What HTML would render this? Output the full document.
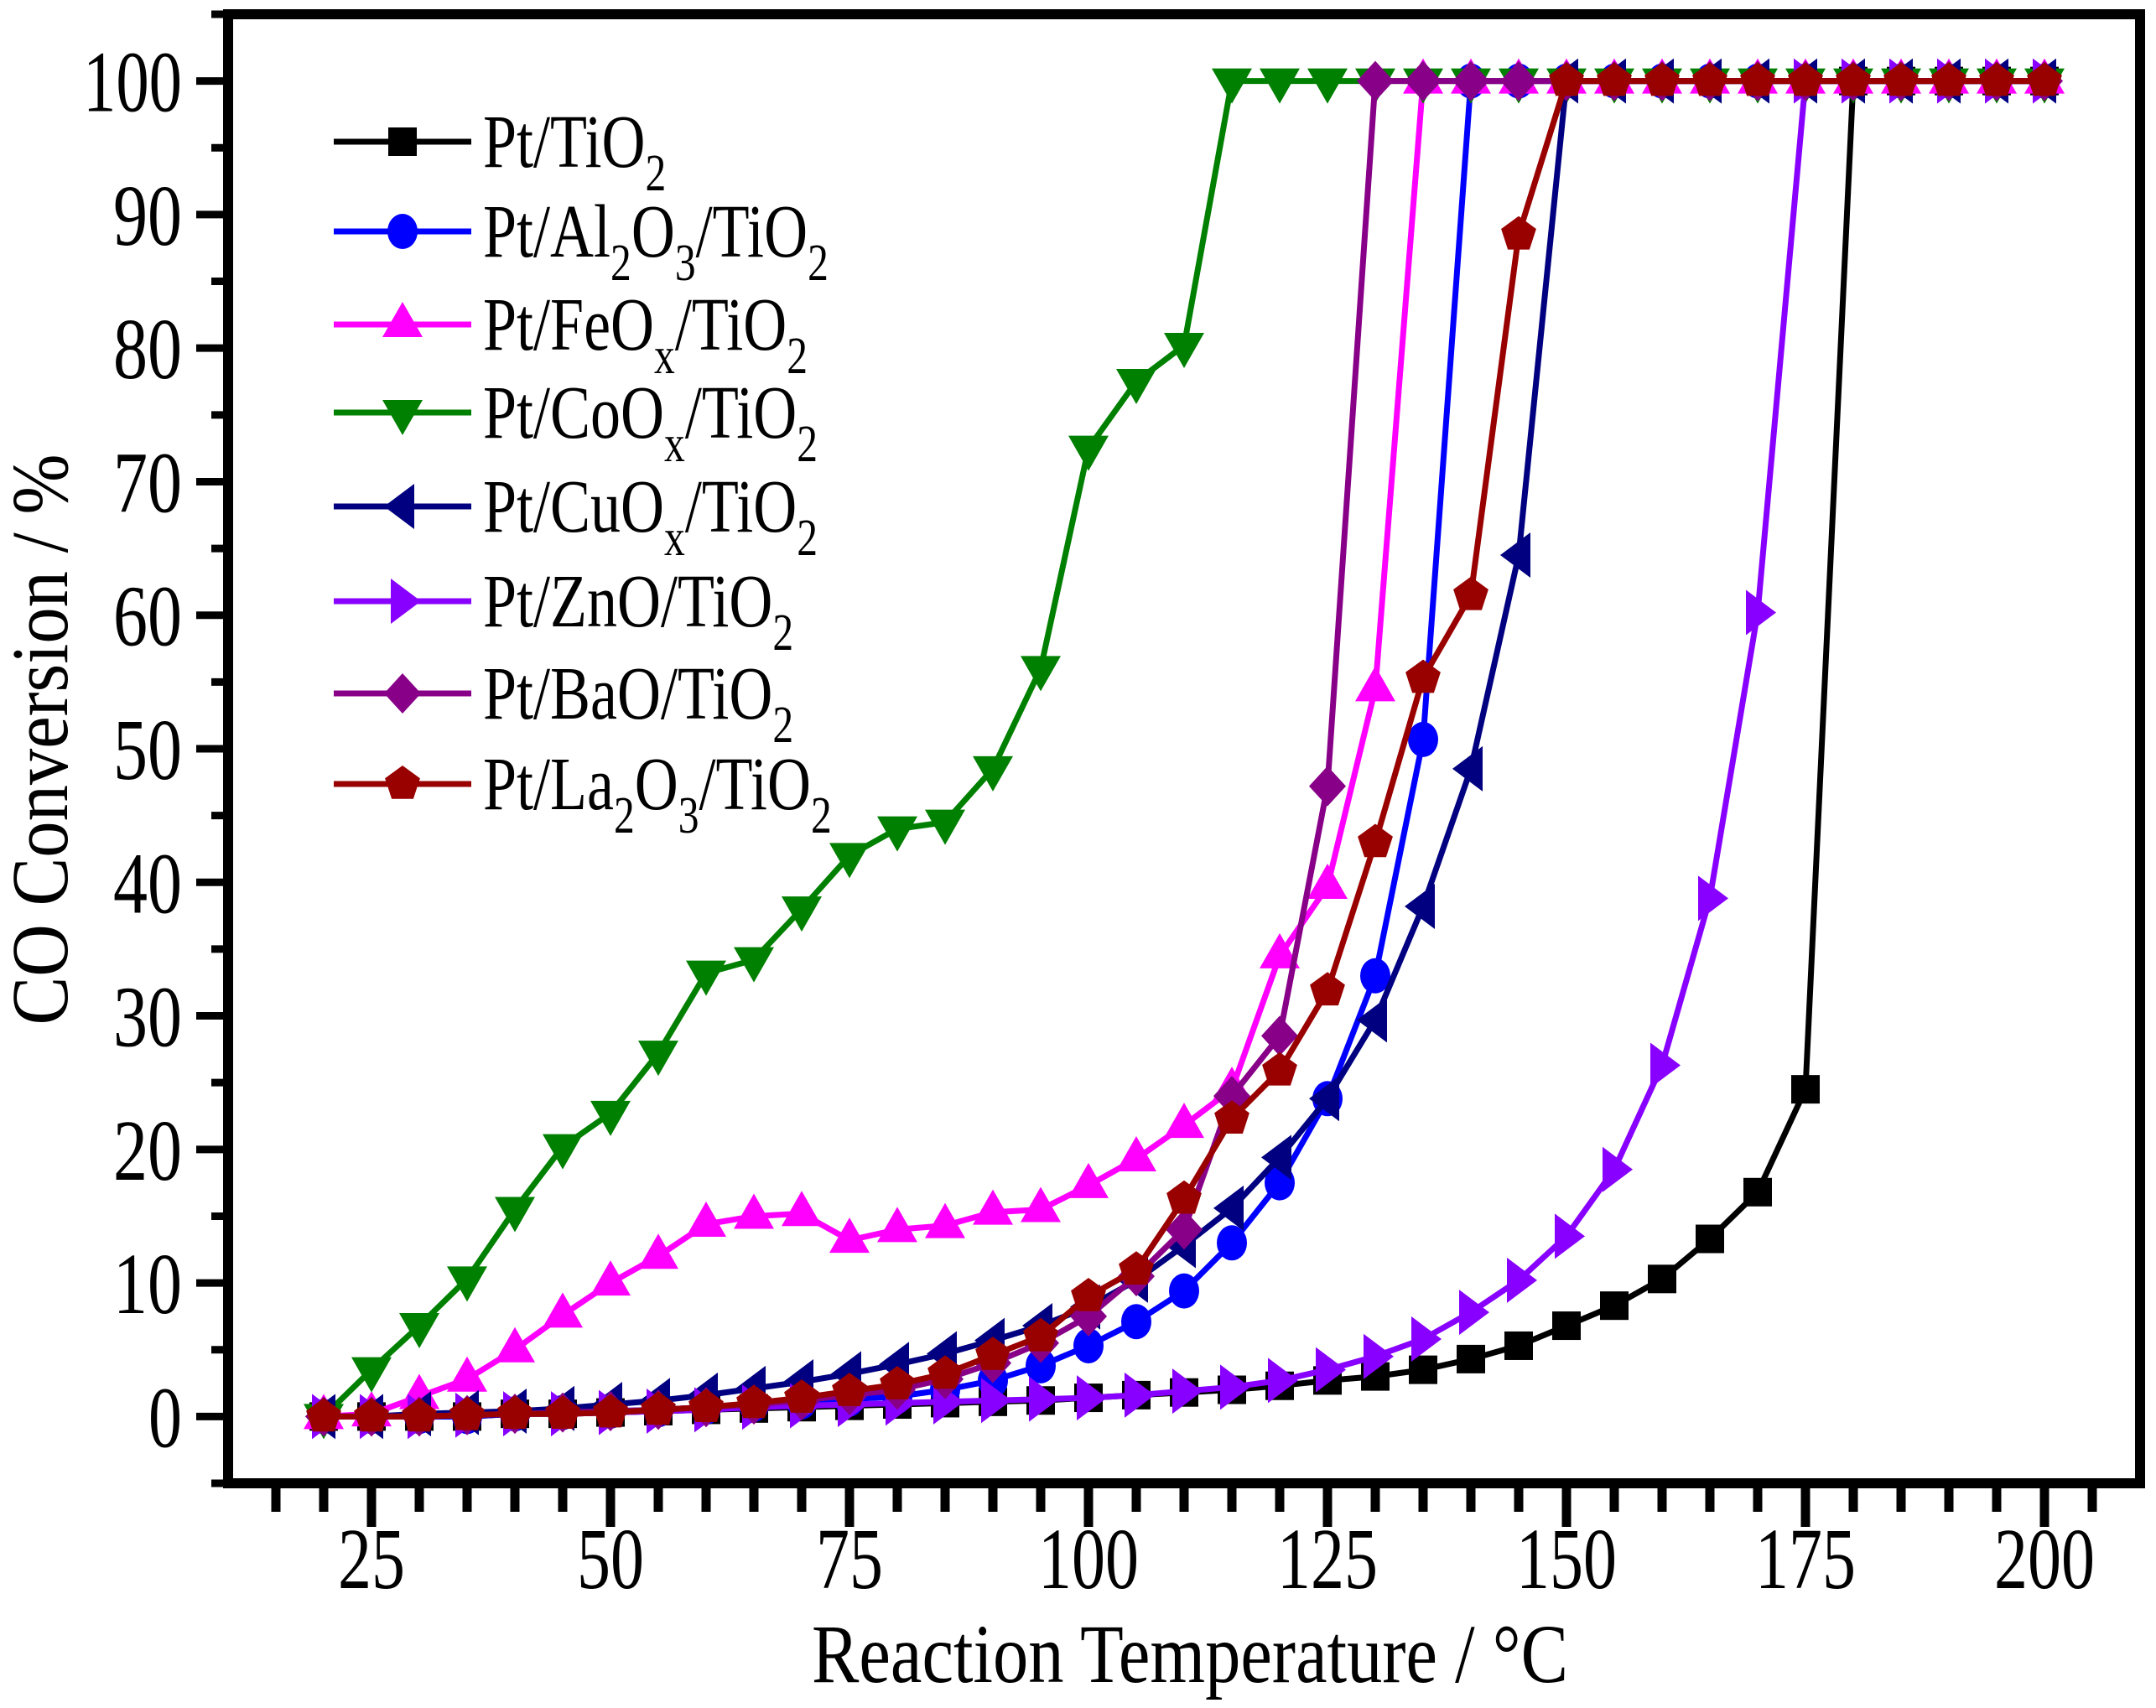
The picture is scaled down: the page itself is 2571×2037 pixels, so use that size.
<!DOCTYPE html>
<html><head><meta charset="utf-8"><style>
html,body{margin:0;padding:0;background:#fff;}
svg{display:block;font-family:"Liberation Serif","DejaVu Serif",serif;}
</style></head>
<body>
<svg id="chart" width="2571" height="2037" viewBox="0 0 2571 2037" xmlns="http://www.w3.org/2000/svg">
<rect x="0" y="0" width="2571" height="2037" fill="#fff"/>
<g id="series"></g>
<g id="axes"></g>
<g id="legend"></g>
</svg>
<script>
const temps = [20,25,30,35,40,45,50,55,60,65,70,75,80,85,90,95,100,105,110,115,120,125,130,135,140,145,150,155,160,165,170,175,180,185,190,195,200];
const ptTiO2 = [0,0,0,0,0.2,0.2,0.3,0.4,0.5,0.6,0.7,0.8,0.9,1.0,1.1,1.2,1.4,1.6,1.8,2.0,2.3,2.7,3.0,3.5,4.3,5.3,6.8,8.3,10.3,13.3,16.8,24.5,100,100,100,100,100];
const ptAl = [0,0,0,0,0.2,0.3,0.4,0.5,0.7,0.9,1.1,1.3,1.5,2.0,2.7,3.8,5.3,7.1,9.4,13,17.5,23.8,33,50.7,100,100,100,100,100,100,100,100,100,100,100,100,100];
const ptFe = [0,0.2,1.5,2.8,5,7.6,10,12,14.4,15,15.2,13.2,14,14.3,15.3,15.5,17.3,19.3,21.8,24.5,34.5,39.7,54.5,100,100,100,100,100,100,100,100,100,100,100,100,100,100];
const ptCo = [0,3.5,6.8,10.3,15.5,20.2,22.7,27.2,33.2,34.2,38,42,44,44.5,48.5,56,72.5,77.5,80.2,100,100,100,100,100,100,100,100,100,100,100,100,100,100,100,100,100,100];
const ptCu = [0,0,0.2,0.3,0.4,0.6,0.9,1.2,1.6,2.1,2.6,3.2,3.9,4.7,5.7,6.8,8.2,10.2,12.8,15.6,19.4,23.8,29.7,38.2,48.5,64.5,100,100,100,100,100,100,100,100,100,100,100];
const ptZn = [0,0,0,0.1,0.2,0.2,0.3,0.4,0.5,0.7,0.8,0.9,1.0,1.1,1.2,1.3,1.4,1.6,1.9,2.2,2.7,3.5,4.5,5.8,7.8,10.2,13.5,18.5,26.3,38.8,60.2,100,100,100,100,100,100];
const ptBa = [0,0,0,0.1,0.2,0.3,0.4,0.5,0.7,0.9,1.2,1.6,2.0,2.8,4.0,5.5,7.5,10.5,14,24,28.5,47.2,100,100,100,100,100,100,100,100,100,100,100,100,100,100,100];
const ptLa = [0,0,0,0.1,0.2,0.2,0.3,0.5,0.7,1.0,1.4,1.9,2.4,3.2,4.6,6.0,9.0,11,16.3,22.3,25.9,31.9,43,55.3,61.5,88.5,100,100,100,100,100,100,100,100,100,100,100];
const xTicks = [25,50,75,100,125,150,175,200];
const yTicks = [0,10,20,30,40,50,60,70,80,90,100];

const NS='http://www.w3.org/2000/svg';
const L=272,R=2552,T=17,B=1769;
const xmin=10,xmax=210,ymin=-5,ymax=105;
const sx=v=>L+(v-xmin)/(xmax-xmin)*(R-L);
const sy=v=>B-(v-ymin)/(ymax-ymin)*(B-T);
function mk(tag,attrs,parent){const e=document.createElementNS(NS,tag);for(const k in attrs)e.setAttribute(k,attrs[k]);parent.appendChild(e);return e;}

function marker(shape,cx,cy,color,parent){
  let e;
  if(shape==='square'){e=mk('rect',{x:cx-17,y:cy-17,width:34,height:34,fill:color},parent);}
  else if(shape==='circle'){e=mk('ellipse',{cx:cx,cy:cy,rx:18,ry:21,fill:color},parent);}
  else if(shape==='up'){e=mk('polygon',{points:`${cx},${cy-27} ${cx+24},${cy+15} ${cx-24},${cy+15}`,fill:color},parent);}
  else if(shape==='down'){e=mk('polygon',{points:`${cx},${cy+27} ${cx+24},${cy-15} ${cx-24},${cy-15}`,fill:color},parent);}
  else if(shape==='left'){e=mk('polygon',{points:`${cx-22},${cy} ${cx+14},${cy-27} ${cx+14},${cy+27}`,fill:color},parent);}
  else if(shape==='right'){e=mk('polygon',{points:`${cx+22},${cy} ${cx-14},${cy-27} ${cx-14},${cy+27}`,fill:color},parent);}
  else if(shape==='diamond'){e=mk('polygon',{points:`${cx},${cy-24} ${cx+22},${cy} ${cx},${cy+24} ${cx-22},${cy}`,fill:color},parent);}
  else if(shape==='pentagon'){let p=[];for(let i=0;i<5;i++){const a=-Math.PI/2+i*2*Math.PI/5;p.push((cx+22*Math.cos(a)).toFixed(1)+','+(cy+22*Math.sin(a)).toFixed(1));}e=mk('polygon',{points:p.join(' '),fill:color},parent);}
  return e;
}

const seriesList=[
 {name:'pt-tio2',vals:ptTiO2,color:'#000000',shape:'square',label:[['Pt/TiO',0],['2',1]]},
 {name:'pt-al2o3-tio2',vals:ptAl,color:'#0000ff',shape:'circle',label:[['Pt/Al',0],['2',1],['O',0],['3',1],['/TiO',0],['2',1]]},
 {name:'pt-feox-tio2',vals:ptFe,color:'#ff00ff',shape:'up',label:[['Pt/FeO',0],['x',1],['/TiO',0],['2',1]]},
 {name:'pt-coox-tio2',vals:ptCo,color:'#008000',shape:'down',label:[['Pt/CoO',0],['x',1],['/TiO',0],['2',1]]},
 {name:'pt-cuox-tio2',vals:ptCu,color:'#000080',shape:'left',label:[['Pt/CuO',0],['x',1],['/TiO',0],['2',1]]},
 {name:'pt-zno-tio2',vals:ptZn,color:'#8800ff',shape:'right',label:[['Pt/ZnO/TiO',0],['2',1]]},
 {name:'pt-bao-tio2',vals:ptBa,color:'#880088',shape:'diamond',label:[['Pt/BaO/TiO',0],['2',1]]},
 {name:'pt-la2o3-tio2',vals:ptLa,color:'#990000',shape:'pentagon',label:[['Pt/La',0],['2',1],['O',0],['3',1],['/TiO',0],['2',1]]}
];

const sg=document.getElementById('series');
seriesList.forEach(s=>{
  const g=mk('g',{},sg);
  
  
  const pts=temps.map((t,i)=>sx(t).toFixed(1)+','+sy(s.vals[i]).toFixed(1)).join(' ');
  const pl=mk('polyline',{points:pts,fill:'none',stroke:s.color,'stroke-width':7,'stroke-linejoin':'round'},g);
  
  
  temps.forEach((t,i)=>{
    const m=marker(s.shape,sx(t),sy(s.vals[i]),s.color,g);
    
    
  });
});

const ag=document.getElementById('axes');
const frame=mk('rect',{x:L,y:T,width:R-L,height:B-T,fill:'none',stroke:'#000','stroke-width':12},ag);


for(let v=15;v<=205;v+=5){
  const major=(v%25===0);
  const t=mk('line',{x1:sx(v),x2:sx(v),y1:B,y2:B+(major?52:34),stroke:'#000','stroke-width':11},ag);
  
  
}
xTicks.forEach(v=>{
  const t=mk('text',{x:sx(v),y:1894,'font-size':104,'text-anchor':'middle',textLength:v>=100?120:80,lengthAdjust:'spacingAndGlyphs'},ag);
  t.textContent=String(v);
  
  
});
for(let v=-5;v<=105;v+=5){
  const major=(v%10===0);
  const t=mk('line',{x1:L,x2:L-(major?38:20),y1:sy(v),y2:sy(v),stroke:'#000','stroke-width':9},ag);
  
  
}
yTicks.forEach(v=>{
  const w=v>=100?118:(v>=10?82:40);
  const t=mk('text',{x:217-w,y:sy(v)+36,'font-size':104,textLength:w,lengthAdjust:'spacingAndGlyphs'},ag);
  t.textContent=String(v);
  
  
});
const xt=mk('text',{x:968,y:2006,'font-size':100,textLength:902,lengthAdjust:'spacingAndGlyphs'},ag);
xt.textContent='Reaction Temperature / °C';


const yt=mk('text',{x:0,y:0,'font-size':96,'text-anchor':'middle',textLength:681,lengthAdjust:'spacingAndGlyphs',transform:'translate(80,882) rotate(-90)'},ag);
yt.textContent='CO Conversion / %';



const lg=document.getElementById('legend');
const legY=[169,276,387,492,604,717,827,935];
seriesList.forEach((s,i)=>{
  const g=mk('g',{},lg);
  
  
  const y=legY[i];
  mk('line',{x1:398,x2:562,y1:y,y2:y,stroke:s.color,'stroke-width':7},g);
  marker(s.shape,480,y,s.color,g);
  const t=mk('text',{'font-size':90,transform:`translate(576,${y+30}) scale(0.8,1)`},g);
  let down=false;
  s.label.forEach(([txt,sub])=>{
    let dy=0;
    if(sub&&!down){dy=28;down=true;}
    else if(!sub&&down){dy=-28;down=false;}
    const sp=mk('tspan',{'font-size':sub?62:90,dy:dy},t);
    sp.textContent=txt;
  });
});
</script>
</body></html>
